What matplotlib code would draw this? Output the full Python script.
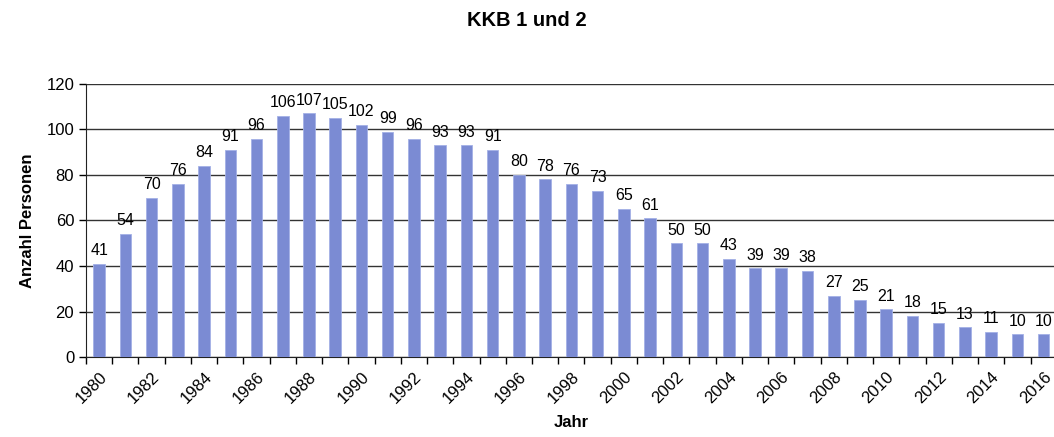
import numpy as np
import matplotlib.pyplot as plt

plt.rcParams['font.family'] = ['Liberation Sans', 'DejaVu Sans']

years = list(range(1980, 2017))
persons = [41, 54, 70, 76, 84, 91, 96, 106, 107, 105, 102, 99, 96, 93, 93, 91,
           80, 78, 76, 73, 65, 61, 50, 50, 43, 39, 39, 38, 27, 25, 21, 18, 15,
           13, 11, 10, 10]

x = np.arange(len(years))

fig = plt.figure(figsize=(10.54, 4.37), dpi=100)
ax = fig.add_axes([0.0816, 0.183, 0.921, 0.625])

bars = ax.bar(x, persons, 0.44, color='#7b8bd3', edgecolor='#a3b0e6', linewidth=0.6, zorder=3)

for xi, v in zip(x, persons):
    ax.text(xi, v + 2.5, str(v), ha='center', va='bottom', fontsize=11.5)

ax.set_xlim(-0.5, len(years) - 0.5)
ax.set_ylim(0, 120)
ax.set_yticks(range(0, 121, 20))
ax.yaxis.grid(True, color='#333333', linewidth=1.0, zorder=0)

ax.set_xticks(x[::2])
ax.set_xticklabels([str(y) for y in years[::2]], rotation=45, ha='right',
                   rotation_mode='anchor', fontsize=12)
ax.set_xticks(np.arange(-0.5, len(years), 1), minor=True)
ax.tick_params(axis='x', which='major', length=0, pad=9)
ax.tick_params(axis='x', which='minor', length=5, width=1, direction='out')
ax.tick_params(axis='y', length=5, width=1, labelsize=12)

for s in ['top', 'right']:
    ax.spines[s].set_visible(False)
ax.spines['left'].set_color('#222222')
ax.spines['bottom'].set_color('#222222')

ax.set_ylabel('Anzahl Personen', fontsize=12, fontweight='bold', labelpad=8)
ax.set_xlabel('Jahr', fontsize=12, fontweight='bold', labelpad=6)
fig.suptitle('KKB 1 und 2', fontsize=14.5, fontweight='bold', y=0.975, x=0.5)

fig.savefig('out.png', dpi=100)
